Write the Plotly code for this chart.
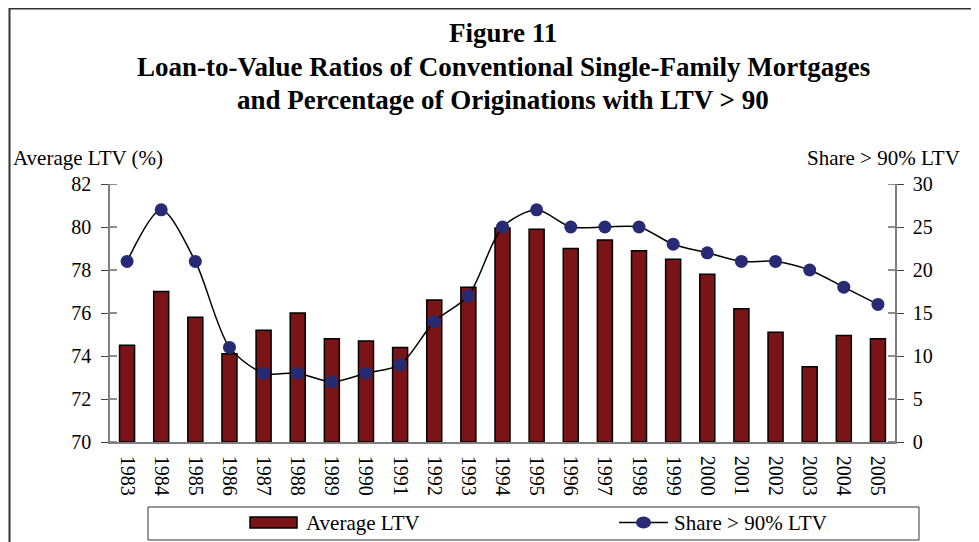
import plotly.graph_objects as go

years = [str(y) for y in range(1983, 2006)]
avg_ltv = [74.5, 77.0, 75.8, 74.1, 75.2, 76.0, 74.8, 74.7, 74.4, 76.6, 77.2, 79.95,
           79.9, 79.0, 79.4, 78.9, 78.5, 77.8, 76.2, 75.1, 73.5, 74.95, 74.8]
share_gt90 = [21, 27, 21, 11, 8, 8, 7, 8, 9, 14, 17, 25,
              27, 25, 25, 25, 23, 22, 21, 21, 20, 18, 16]
left_ticks = [70, 72, 74, 76, 78, 80, 82]
right_ticks = [0, 5, 10, 15, 20, 25, 30]

# page body margin offset (browser default 8px)
O = 8
W, H = 979 - O, 542 - O
# plot area in reference-screen pixels
RL, RR, RT, RB = 110, 895, 184, 442
L, R, T, B = RL - O, RR - O, RT - O, RB - O
PW, PH = R - L, B - T

def px(x):
    return (x - RL) / PW

def py(y):
    return (RB - y) / PH

FONT = "Liberation Serif, Times New Roman, serif"
BAR_COLOR = "#7B1416"
DOT_COLOR = "#262B73"
AXIS_COLOR = "#7f7f7f"

fig = go.Figure()
fig.add_trace(go.Bar(
    x=years, y=[v - 70 for v in avg_ltv], base=70, name="Average LTV", width=0.44,
    marker=dict(color=BAR_COLOR, line=dict(color="black", width=1.5)),
    showlegend=False,
))
fig.add_trace(go.Scatter(
    x=years, y=share_gt90, name="Share > 90% LTV", yaxis="y2",
    mode="lines+markers", line=dict(color="black", width=1.5, shape="spline", smoothing=0.8),
    marker=dict(color=DOT_COLOR, size=13), showlegend=False,
))

shapes = []
shapes.append(dict(type="rect", xref="paper", yref="paper",
                   x0=px(9.5), x1=px(1010), y0=py(8.5), y1=py(570),
                   line=dict(color="#333333", width=2), fillcolor="rgba(0,0,0,0)", layer="below"))
for t in left_ticks:
    shapes.append(dict(type="line", xref="paper", yref="y", xsizemode="pixel", xanchor=0,
                       x0=0, x1=7, y0=t, y1=t, line=dict(color="#444444", width=1.2)))
for t in right_ticks:
    shapes.append(dict(type="line", xref="paper", yref="y2", xsizemode="pixel", xanchor=1,
                       x0=-7, x1=0, y0=t, y1=t, line=dict(color="#444444", width=1.2)))
shapes.append(dict(type="rect", xref="paper", yref="paper",
                   x0=px(148), x1=px(919), y0=py(507), y1=py(540),
                   line=dict(color="#333333", width=1), fillcolor="white"))
shapes.append(dict(type="rect", xref="paper", yref="paper",
                   x0=px(250), x1=px(297), y0=py(517), y1=py(528),
                   line=dict(color="black", width=1.5), fillcolor=BAR_COLOR))
shapes.append(dict(type="line", xref="paper", yref="paper",
                   x0=px(619), x1=px(668), y0=py(522.5), y1=py(522.5),
                   line=dict(color="black", width=1.5)))
shapes.append(dict(type="circle", xref="paper", yref="paper",
                   x0=px(636), x1=px(651), y0=py(516.5), y1=py(528.5),
                   line=dict(color=DOT_COLOR, width=0), fillcolor=DOT_COLOR))

annotations = []
title_lines = [("Figure 11", 33),
               ("Loan-to-Value Ratios of Conventional Single-Family Mortgages", 67),
               ("and Percentage of Originations with LTV > 90", 100)]
for txt, yy in title_lines:
    annotations.append(dict(text="<b>%s</b>" % txt, xref="paper", yref="paper",
                            x=px(503), y=py(yy), xanchor="center", yanchor="middle",
                            showarrow=False, font=dict(family=FONT, size=27, color="black")))
annotations.append(dict(text="Average LTV (%)", xref="paper", yref="paper",
                        x=px(11), y=py(158), xanchor="left", yanchor="middle",
                        showarrow=False, font=dict(family=FONT, size=21, color="black")))
annotations.append(dict(text="Share > 90% LTV", xref="paper", yref="paper",
                        x=px(962), y=py(158), xanchor="right", yanchor="middle",
                        showarrow=False, font=dict(family=FONT, size=21, color="black")))
annotations.append(dict(text="Average LTV", xref="paper", yref="paper",
                        x=px(304), y=py(522.5), xanchor="left", yanchor="middle",
                        showarrow=False, font=dict(family=FONT, size=21, color="black")))
annotations.append(dict(text="Share > 90% LTV", xref="paper", yref="paper",
                        x=px(672), y=py(522.5), xanchor="left", yanchor="middle",
                        showarrow=False, font=dict(family=FONT, size=21, color="black")))

fig.update_layout(
    width=W, height=H,
    margin=dict(l=L, r=W - R, t=T, b=H - B, pad=0),
    paper_bgcolor="white", plot_bgcolor="white",
    font=dict(family=FONT, size=20, color="black"),
    xaxis=dict(type="category", range=[-0.5, 22.5], showline=True, linecolor=AXIS_COLOR,
               linewidth=1.5, ticks="", tickangle=90, showgrid=False, zeroline=False,
               ticklabelstandoff=8, tickfont=dict(family=FONT, size=20)),
    yaxis=dict(range=[70, 82], tickvals=left_ticks, showline=True, linecolor=AXIS_COLOR,
               linewidth=1.5, ticks="outside", ticklen=7, tickcolor="#444444", tickwidth=1.2,
               showgrid=False, zeroline=False, ticklabelstandoff=6,
               tickfont=dict(family=FONT, size=20)),
    yaxis2=dict(range=[0, 30], tickvals=right_ticks, overlaying="y", side="right",
                showline=True, linecolor=AXIS_COLOR, linewidth=1.5, ticks="outside", ticklen=7,
                tickcolor="#444444", tickwidth=1.2, showgrid=False, zeroline=False,
                ticklabelstandoff=5, tickfont=dict(family=FONT, size=20)),
    shapes=shapes, annotations=annotations, showlegend=False,
)

fig.write_html("out.html")
